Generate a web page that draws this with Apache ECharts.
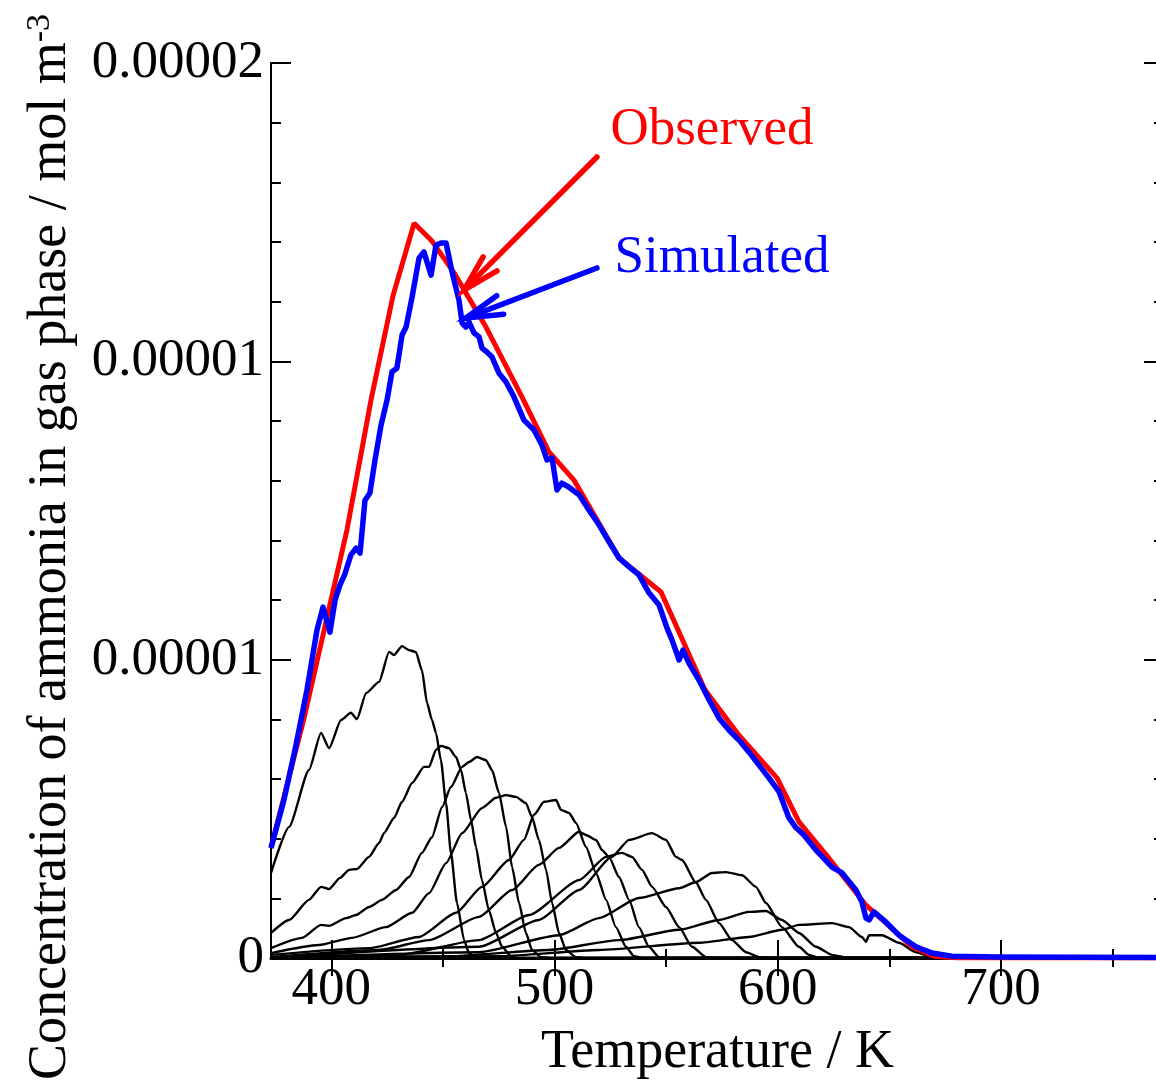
<!DOCTYPE html>
<html>
<head>
<meta charset="utf-8">
<script src="https://cdn.jsdelivr.net/npm/echarts@6/dist/echarts.min.js"></script>
<style>
html, body { margin: 0; padding: 0; background: #fff; overflow: hidden; }
/* a bit wider than the window: the right frame edge of the plot sits just outside the picture */
#main { width: 1172px; height: 1086px; }
</style>
</head>
<body>
<div id="main"></div>
<script>
// concentrations below are read in units of 1e-5 mol m^-3, temperature in K
const Y_UNIT = 1e-5;

const xMajorTicks = [400, 500, 600, 700];
const xMinorTicks = [450, 550, 650, 750];
const yMajorTicks = [0, 0.66667, 1.33333, 2];
const yMinorTicks = [0.13333, 0.26667, 0.4, 0.53333, 0.8, 0.93333, 1.06667, 1.2, 1.46667, 1.6, 1.73333, 1.86667];

// measured curve (red)
const observed = [
  [373.0, 0.246], [387.8, 0.536], [407.0, 0.956], [417.8, 1.247], [427.6, 1.479],
  [437.1, 1.642], [445.1, 1.602], [455.0, 1.531], [469.3, 1.410], [485.4, 1.254],
  [497.5, 1.131], [508.7, 1.068], [528.9, 0.894], [547.7, 0.818], [567.4, 0.599],
  [582.6, 0.498], [599.7, 0.402], [609.5, 0.304], [622.9, 0.223], [639.5, 0.118],
  [648.5, 0.078], [660.1, 0.025], [670.0, 0.004], [681.2, 0], [773, 0]
];

// simulated total (blue)
const simulated = [
  [373.0, 0.246], [378.8, 0.353], [384.2, 0.476], [389.1, 0.599], [393.6, 0.733],
  [396.3, 0.784], [399.4, 0.728], [401.7, 0.800], [403.9, 0.834], [406.1, 0.858],
  [408.8, 0.901], [411.1, 0.916], [412.9, 0.905], [415.1, 1.023], [417.3, 1.039],
  [419.6, 1.113], [422.3, 1.191], [425.0, 1.247], [427.2, 1.310], [429.4, 1.318],
  [431.7, 1.392], [433.5, 1.410], [436.2, 1.477], [439.3, 1.564], [441.5, 1.578],
  [444.7, 1.526], [446.9, 1.593], [449.1, 1.598], [451.4, 1.598], [454.1, 1.533],
  [457.2, 1.470], [458.6, 1.419], [460.3, 1.410], [461.7, 1.421], [463.9, 1.397],
  [466.2, 1.388], [467.5, 1.363], [469.8, 1.354], [472.0, 1.343], [475.1, 1.307],
  [478.3, 1.287], [481.8, 1.254], [486.3, 1.202], [490.8, 1.180], [494.4, 1.146],
  [496.6, 1.113], [498.9, 1.117], [501.1, 1.046], [503.3, 1.061], [506.5, 1.052],
  [511.0, 1.035], [515.4, 1.001], [519.9, 0.968], [523.1, 0.941], [525.3, 0.923],
  [528.9, 0.894], [533.4, 0.874], [537.8, 0.856], [542.3, 0.816], [546.8, 0.789],
  [550.4, 0.737], [552.6, 0.711], [555.8, 0.666], [557.5, 0.688], [560.2, 0.659],
  [564.7, 0.621], [569.2, 0.577], [573.7, 0.536], [578.2, 0.509], [582.6, 0.487],
  [587.1, 0.460], [591.6, 0.431], [596.1, 0.402], [600.6, 0.371], [605.0, 0.313],
  [608.2, 0.291], [611.7, 0.275], [617.1, 0.241], [624.3, 0.203], [628.8, 0.190],
  [635.0, 0.152], [637.7, 0.125], [639.5, 0.089], [640.9, 0.085], [643.1, 0.103],
  [648.5, 0.080], [654.3, 0.051], [661.9, 0.025], [669.1, 0.011], [678.0, 0.004],
  [699.1, 0.002], [773, 0.001]
];

// individual site contributions (black)
const comp1 = [
  [373.0, 0.190], [381.1, 0.293], [390.0, 0.420], [395.4, 0.503], [399.0, 0.469],
  [404.4, 0.532], [408.8, 0.548], [411.5, 0.534], [415.6, 0.592], [421.4, 0.617],
  [425.9, 0.684], [428.1, 0.677], [431.7, 0.697], [434.8, 0.688], [437.9, 0.684],
  [440.6, 0.643], [442.9, 0.570], [445.1, 0.532], [446.9, 0.503], [449.1, 0.442],
  [451.4, 0.346], [453.6, 0.235], [456.3, 0.123], [459.5, 0.040], [461.7, 0.011],
  [465.3, 0], [773, 0]
];
const comp2 = [
  [373.0, 0.056], [381.1, 0.085], [390.0, 0.130], [395.4, 0.159], [399.0, 0.154],
  [403.9, 0.179], [408.0, 0.197], [411.5, 0.199], [416.9, 0.226], [421.4, 0.257],
  [423.6, 0.279], [428.1, 0.313], [431.7, 0.349], [436.2, 0.391], [441.5, 0.427],
  [443.8, 0.427], [446.9, 0.465], [449.1, 0.474], [452.7, 0.469], [455.9, 0.449],
  [458.1, 0.420], [460.3, 0.369], [462.6, 0.308], [464.8, 0.248], [467.5, 0.174],
  [470.6, 0.107], [473.8, 0.056], [476.5, 0.025], [480.5, 0.004], [484.1, 0], [773, 0]
];
const comp3 = [
  [373.0, 0.022], [386.9, 0.045], [395.4, 0.074], [399.0, 0.072], [406.6, 0.089],
  [411.1, 0.096], [416.9, 0.114], [422.7, 0.130], [429.0, 0.152], [434.8, 0.181],
  [440.6, 0.235], [445.1, 0.270], [449.6, 0.337], [453.6, 0.382], [458.6, 0.427],
  [461.7, 0.438], [465.3, 0.449], [469.3, 0.442], [472.0, 0.420], [475.1, 0.369],
  [478.3, 0.293], [481.0, 0.203], [484.1, 0.123], [487.2, 0.056], [489.9, 0.018],
  [493.9, 0.002], [497.5, 0], [773, 0]
];
const comp4 = [
  [373.0, 0.011], [394.5, 0.029], [409.3, 0.045], [424.5, 0.069], [436.2, 0.101],
  [443.8, 0.145], [451.4, 0.212], [458.6, 0.279], [467.5, 0.335], [473.8, 0.358],
  [478.3, 0.364], [482.7, 0.360], [487.2, 0.346], [489.9, 0.315], [493.0, 0.264],
  [496.2, 0.197], [498.9, 0.123], [502.0, 0.056], [505.1, 0.018], [509.6, 0.002],
  [513.2, 0], [773, 0]
];
const comp5 = [
  [373.0, 0.007], [416.9, 0.022], [439.3, 0.047], [455.9, 0.101], [467.5, 0.159],
  [479.6, 0.219], [486.3, 0.264], [490.8, 0.320], [495.3, 0.349], [500.7, 0.353],
  [502.9, 0.331], [506.5, 0.324], [509.6, 0.302], [514.1, 0.248], [518.6, 0.190],
  [523.1, 0.130], [527.5, 0.069], [532.0, 0.025], [535.6, 0.004], [540.1, 0], [773, 0]
];
const comp6 = [
  [373.0, 0.002], [421.4, 0.018], [443.8, 0.040], [466.2, 0.092], [481.0, 0.152],
  [493.0, 0.208], [502.0, 0.246], [511.0, 0.282], [514.1, 0.275], [518.6, 0.264],
  [521.3, 0.241], [524.4, 0.226], [528.9, 0.181], [533.4, 0.130], [537.8, 0.069],
  [542.3, 0.025], [546.8, 0.002], [551.3, 0], [773, 0]
];
const comp7 = [
  [373.0, 0], [430.3, 0.007], [466.2, 0.040], [488.6, 0.096], [511.0, 0.174],
  [523.1, 0.226], [530.2, 0.235], [534.7, 0.226], [539.2, 0.197], [543.7, 0.159],
  [549.9, 0.114], [555.8, 0.069], [561.6, 0.025], [567.8, 0.002], [571.4, 0], [773, 0]
];
const comp8 = [
  [373.0, 0], [466.2, 0.025], [493.0, 0.085], [511.0, 0.152], [525.7, 0.226],
  [533.4, 0.264], [543.7, 0.279], [549.9, 0.264], [554.4, 0.226], [557.1, 0.219],
  [563.4, 0.168], [567.8, 0.130], [573.7, 0.078], [579.5, 0.040], [585.8, 0.013],
  [591.6, 0.002], [596.1, 0], [773, 0]
];
const comp9 = [
  [373.0, 0], [466.2, 0.013], [502.0, 0.051], [519.9, 0.089], [537.8, 0.134],
  [555.8, 0.156], [563.4, 0.170], [570.5, 0.190], [576.8, 0.192], [584.0, 0.185],
  [590.2, 0.159], [594.7, 0.123], [601.9, 0.069], [609.5, 0.025], [614.0, 0.007],
  [618.5, 0], [773, 0]
];
const comp10 = [
  [373.0, 0], [452.7, 0.004], [497.5, 0.018], [528.9, 0.040], [555.8, 0.063],
  [573.7, 0.085], [587.1, 0.103], [594.7, 0.105], [601.9, 0.085], [609.5, 0.056],
  [617.1, 0.025], [624.3, 0.007], [631.9, 0], [773, 0]
];
const comp11 = [
  [373.0, 0], [475.1, 0.004], [519.9, 0.018], [564.7, 0.034], [587.1, 0.047],
  [601.9, 0.063], [609.5, 0.074], [624.3, 0.078], [631.9, 0.069], [637.7, 0.047],
  [639.5, 0.036], [640.9, 0.051], [646.7, 0.051], [654.3, 0.034], [661.9, 0.013],
  [669.1, 0.002], [676.7, 0], [773, 0]
];
const components = [comp1, comp2, comp3, comp4, comp5, comp6, comp7, comp8, comp9, comp10, comp11];

// annotation arrows: [tail, head] in data units
const arrowObserved = [[519.0, 1.790], [459.5, 1.493]];
const arrowSimulated = [[519.0, 1.542], [460.3, 1.430]];

const FONT = '"Liberation Serif", "Times New Roman", serif';
const toData = arr => arr.map(p => [p[0], p[1] * Y_UNIT]);
const scaleTicks = arr => arr.map(v => v * Y_UNIT);

function xAxisDef(pos, ticks, len, extra) {
  return Object.assign({
    type: 'value', position: pos, min: 373, max: 773,
    axisLine: { show: false },
    axisTick: { show: true, inside: true, length: len, customValues: ticks, lineStyle: { color: '#000', width: 2 } },
    axisLabel: { show: false },
    splitLine: { show: false }
  }, extra || {});
}
function yAxisDef(pos, ticks, len, extra) {
  return Object.assign({
    type: 'value', position: pos, min: 0, max: 2 * Y_UNIT,
    axisLine: { show: false },
    axisTick: { show: true, inside: true, length: len, customValues: scaleTicks(ticks), lineStyle: { color: '#000', width: 2 } },
    axisLabel: { show: false },
    splitLine: { show: false }
  }, extra || {});
}

const chart = echarts.init(document.getElementById('main'));

const series = components.map(c => ({
  type: 'line', data: toData(c), symbol: 'none', silent: true,
  smooth: 0.2, smoothMonotone: 'x',
  lineStyle: { color: '#000', width: 2.4 }, z: 2
}));
series.push({
  type: 'line', name: 'Observed', data: toData(observed), symbol: 'none', silent: true,
  lineStyle: { color: '#ff0000', width: 5 }, z: 3
});
series.push({
  type: 'line', name: 'Simulated', data: toData(simulated), symbol: 'none', silent: true,
  lineStyle: { color: '#0000ff', width: 5.5, join: 'round' }, z: 4
});

chart.setOption({
  animation: false,
  backgroundColor: '#fff',
  grid: { left: 271, top: 63, width: 893, height: 895, containLabel: false },
  xAxis: [
    xAxisDef('bottom', xMajorTicks, 18, {
      axisLine: { show: true, lineStyle: { color: '#000', width: 3 } },
      axisLabel: { show: true, customValues: xMajorTicks, margin: 6, color: '#000', fontFamily: FONT, fontSize: 53 },
      name: 'Temperature / K', nameLocation: 'middle', nameGap: 68,
      nameTextStyle: { color: '#000', fontFamily: FONT, fontSize: 54 }
    }),
    xAxisDef('bottom', xMinorTicks, 9),
    xAxisDef('top', xMajorTicks, 18, { axisLine: { show: true, lineStyle: { color: '#000', width: 2 } } }),
    xAxisDef('top', xMinorTicks, 9)
  ],
  yAxis: [
    yAxisDef('left', yMajorTicks, 20, {
      axisLine: { show: true, lineStyle: { color: '#000', width: 2 } },
      axisLabel: {
        show: true, customValues: scaleTicks(yMajorTicks), margin: 7, color: '#000', fontFamily: FONT, fontSize: 53,
        formatter: v => (v === 0 ? '0' : v.toFixed(5))
      }
    }),
    yAxisDef('left', yMinorTicks, 10),
    yAxisDef('right', yMajorTicks, 20, { axisLine: { show: true, lineStyle: { color: '#000', width: 2 } } }),
    yAxisDef('right', yMinorTicks, 10)
  ],
  series: series
});

// y title, labels and arrows
function arrowGraphic(arrow, color) {
  const tail = chart.convertToPixel({ seriesIndex: 0 }, [arrow[0][0], arrow[0][1] * Y_UNIT]);
  const head = chart.convertToPixel({ seriesIndex: 0 }, [arrow[1][0], arrow[1][1] * Y_UNIT]);
  const ang = Math.atan2(tail[1] - head[1], tail[0] - head[0]);
  const len = 38, spread = 15 * Math.PI / 180;
  const b1 = [head[0] + len * Math.cos(ang + spread), head[1] + len * Math.sin(ang + spread)];
  const b2 = [head[0] + len * Math.cos(ang - spread), head[1] + len * Math.sin(ang - spread)];
  const st = { stroke: color, lineWidth: 5.5, fill: null, lineCap: 'round', lineJoin: 'miter' };
  return [
    { type: 'polyline', shape: { points: [tail, head] }, style: st, z: 10, silent: true },
    { type: 'polyline', shape: { points: [b1, head, b2] }, style: st, z: 10, silent: true }
  ];
}

chart.setOption({
  graphic: [
    {
      type: 'text', x: 51, y: 1080, rotation: Math.PI / 2, silent: true,
      style: {
        text: 'Concentration of ammonia in gas phase / mol m{sup|-3}',
        fill: '#000', font: '54px ' + FONT, align: 'left', verticalAlign: 'middle',
        rich: { sup: { fontSize: 34, fontFamily: FONT, fill: '#000', verticalAlign: 'top', padding: [0, 0, 22, 0] } }
      }
    },
    {
      type: 'text', x: 712, y: 130, silent: true,
      style: { text: 'Observed', fill: '#ff0000', font: '53px ' + FONT, align: 'center', verticalAlign: 'middle' }
    },
    {
      type: 'text', x: 722, y: 258, silent: true,
      style: { text: 'Simulated', fill: '#0000ff', font: '53px ' + FONT, align: 'center', verticalAlign: 'middle' }
    }
  ].concat(arrowGraphic(arrowObserved, '#ff0000'), arrowGraphic(arrowSimulated, '#0000ff'))
});
</script>
</body>
</html>
